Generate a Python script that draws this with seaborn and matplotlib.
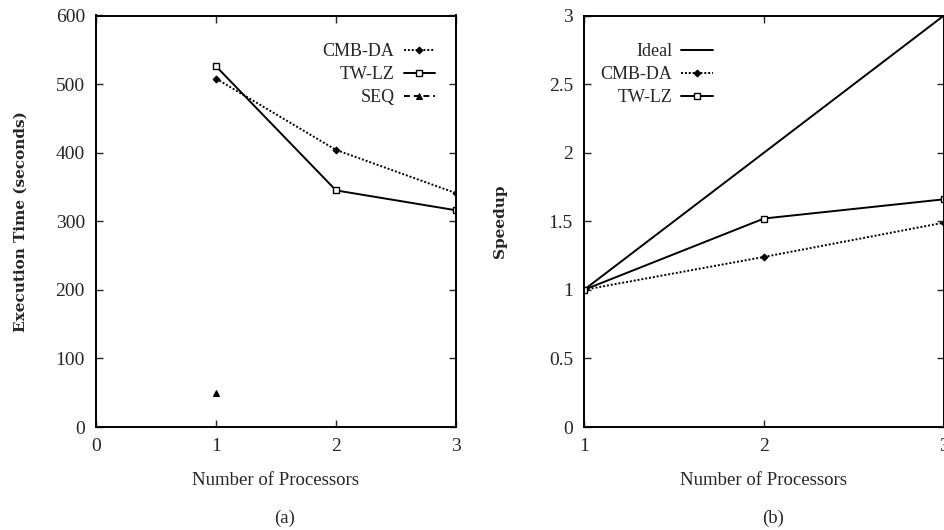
import matplotlib
matplotlib.use("Agg")
import matplotlib.pyplot as plt
import seaborn as sns
import pandas as pd

# Data
procs = [1, 2, 3]
cmb_da_time = [508, 404, 341]
tw_lz_time = [526, 345, 316]
seq_procs = [1]
seq_time = [49]

ideal_speedup = [1, 2, 3]
cmb_da_speedup = [1, 1.24, 1.49]
tw_lz_speedup = [1, 1.52, 1.66]

sns.set_style("ticks")
plt.rcParams['font.family'] = ['Liberation Serif', 'DejaVu Serif']
plt.rcParams['axes.linewidth'] = 1.4

fig = plt.figure(figsize=(9.44, 5.30), dpi=100)
axa = fig.add_axes([96/944, 1 - 427/530, (456 - 96)/944, (427 - 15.5)/530])
axb = fig.add_axes([584/944, 1 - 427/530, (944 - 584)/944, (427 - 15.5)/530])

lw = 1.4
ms = 4.5
dot = (0, (1.0, 1.0))

common_cmb = dict(color="black", lw=lw, linestyle=dot, marker="D", markersize=ms - 1,
                  markerfacecolor="black", markeredgecolor="black")
common_tw = dict(color="black", lw=lw, linestyle="-", marker="s", markersize=ms,
                 markerfacecolor="white", markeredgecolor="black", markeredgewidth=1.0)
leg_kw = dict(frameon=False, markerfirst=False, fontsize=13, handlelength=1.75,
              handletextpad=0.5, labelspacing=0.33, borderpad=0, borderaxespad=0)

# Panel (a)
df_cmb = pd.DataFrame({"x": procs, "y": cmb_da_time})
df_tw = pd.DataFrame({"x": procs, "y": tw_lz_time})
df_seq = pd.DataFrame({"x": seq_procs, "y": seq_time})
sns.lineplot(data=df_cmb, x="x", y="y", ax=axa, label="CMB-DA", **common_cmb)
sns.lineplot(data=df_tw, x="x", y="y", ax=axa, label="TW-LZ", **common_tw)
sns.lineplot(data=df_seq, x="x", y="y", ax=axa, color="black", lw=lw, linestyle=(0, (3, 2)),
             marker="^", markersize=ms, markerfacecolor="black", markeredgecolor="black",
             label="SEQ")
axa.set_xlim(0, 3)
axa.set_ylim(0, 600)
axa.set_xticks([0, 1, 2, 3])
axa.set_yticks([0, 100, 200, 300, 400, 500, 600])
axa.set_xlabel("Number of Processors", fontsize=13.5, labelpad=12)
axa.set_ylabel("Execution Time (seconds)", fontsize=11, fontweight="bold",
               family=['DejaVu Serif'], labelpad=20)
axa.legend(loc="upper right", bbox_to_anchor=(0.942, 0.933), **leg_kw)

# Panel (b)
df_ideal = pd.DataFrame({"x": procs, "y": ideal_speedup})
df_cmb_s = pd.DataFrame({"x": procs, "y": cmb_da_speedup})
df_tw_s = pd.DataFrame({"x": procs, "y": tw_lz_speedup})
sns.lineplot(data=df_ideal, x="x", y="y", ax=axb, color="black", lw=lw, linestyle="-", label="Ideal")
sns.lineplot(data=df_cmb_s, x="x", y="y", ax=axb, label="CMB-DA", **common_cmb)
sns.lineplot(data=df_tw_s, x="x", y="y", ax=axb, label="TW-LZ", **common_tw)
axb.set_xlim(1, 3)
axb.set_ylim(0, 3)
axb.set_xticks([1, 2, 3])
axb.set_yticks([0, 0.5, 1, 1.5, 2, 2.5, 3])
axb.set_yticklabels(["0", "0.5", "1", "1.5", "2", "2.5", "3"])
axb.set_xlabel("Number of Processors", fontsize=13.5, labelpad=12)
axb.set_ylabel("Speedup", fontsize=11, fontweight="bold", family=['DejaVu Serif'], labelpad=30)
axb.legend(loc="upper right", bbox_to_anchor=(0.358, 0.933), **leg_kw)

for ax in (axa, axb):
    ax.tick_params(direction="in", top=True, right=True, length=5, width=1.0,
                   labelsize=14, pad=8)
    for s in ax.spines.values():
        s.set_visible(True)
        s.set_color("black")

fig.text(285/944, 1 - 518/530, "(a)", fontsize=13.5, ha="center", va="center")
fig.text(773/944, 1 - 518/530, "(b)", fontsize=13.5, ha="center", va="center")

fig.savefig("out.png", dpi=100)
